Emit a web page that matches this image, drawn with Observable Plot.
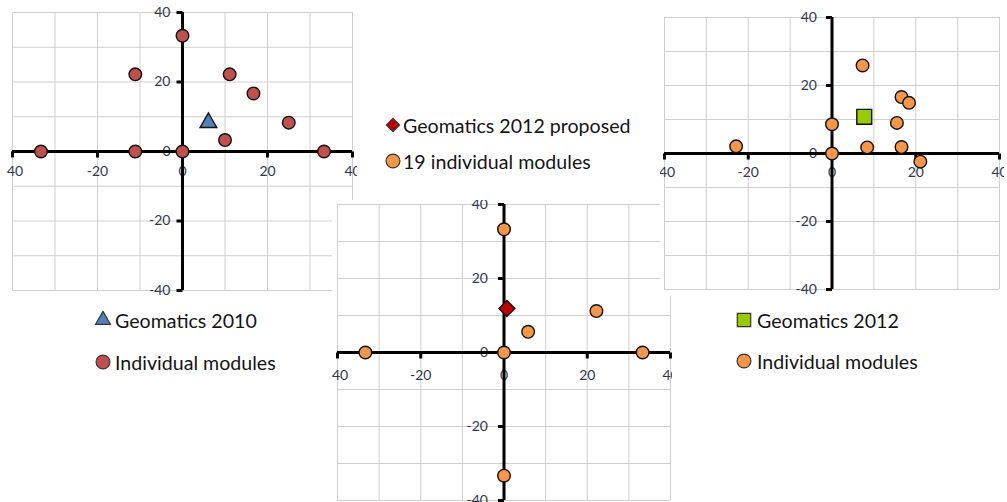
<!DOCTYPE html>
<html><head><meta charset="utf-8">
<script src="https://cdn.jsdelivr.net/npm/d3@7"></script>
<script src="https://cdn.jsdelivr.net/npm/@observablehq/plot@0.6"></script>
<style>
html,body{margin:0;padding:0;background:#fff;}
#root{position:relative;width:1007px;height:502px;overflow:hidden;background:#fff;font-family:Lato,sans-serif;}
#root > svg{position:absolute;overflow:hidden;}
.row{position:absolute;white-space:nowrap;display:flex;align-items:center;font-family:Lato,sans-serif;font-size:19.6px;color:#141414;height:28px;}
.row svg{display:block;flex:none;}
</style></head><body><div id="root"></div>
<script>
// ---- shared axis values ----
const gridValues = [-40, -30, -20, -10, 0, 10, 20, 30, 40];
const tickLabels = [-40, -20, 0, 20, 40];
const axisTicks = [-40, -20, 20, 40];

// ---- Geomatics 2010 chart ----
const modules2010X = [-33.3, -11.1, 0, 33.3, 0, -11.1, 11.1, 16.7, 25, 10];
const modules2010Y = [0, 0, 0, 0, 33.3, 22.2, 22.2, 16.7, 8.3, 3.3];
const geomatics2010X = [6.1];
const geomatics2010Y = [8.3];

// ---- Geomatics 2012 proposed chart ----
const modulesProposedX = [-33.3, 0, 33.3, 0, 0, 5.8, 22.2];
const modulesProposedY = [0, 0, 0, 33.3, -33.3, 5.6, 11.2];
const proposed2012X = [0.7];
const proposed2012Y = [11.9];

// ---- Geomatics 2012 chart ----
const modules2012X = [-22.9, 0, 0, 7.3, 8.4, 16.6, 18.4, 15.5, 16.6, 21.1];
const modules2012Y = [2.1, 0, 8.6, 25.9, 1.8, 16.6, 14.9, 9.0, 1.9, -2.4];
const geomatics2012X = [7.7];
const geomatics2012Y = [10.8];

const pts = (xs, ys) => xs.map((x, i) => ({x, y: ys[i]}));
const labelColor = "#2f3848";
const tickDown = {draw(ctx) { ctx.moveTo(0, 0); ctx.lineTo(0, 6); }};
const tickLeft = {draw(ctx) { ctx.moveTo(0, 0); ctx.lineTo(-6, 0); }};

function scatter({width, height, mt, mr, mb, ml, dx, dy, series}) {
  return Plot.plot({
    width, height,
    marginTop: mt, marginRight: mr, marginBottom: mb, marginLeft: ml,
    x: {domain: [-40, 40], axis: null},
    y: {domain: [-40, 40], axis: null},
    style: {fontFamily: "Lato, sans-serif", fontSize: "14px", background: "white", overflow: "hidden"},
    marks: [
      Plot.ruleX(gridValues, {stroke: "#cfcfcf", strokeWidth: 1}),
      Plot.ruleY(gridValues, {stroke: "#cfcfcf", strokeWidth: 1}),
      Plot.text(tickLabels, {x: d => d, y: 0, dy, text: d => String(d), fill: labelColor}),
      Plot.text(tickLabels, {x: 0, y: d => d, dx, textAnchor: "end", text: d => String(d), fill: labelColor}),
      Plot.ruleX([0], {stroke: "black", strokeWidth: 3}),
      Plot.ruleY([0], {stroke: "black", strokeWidth: 3}),
      Plot.dot(axisTicks, {x: d => d, y: 0, symbol: tickDown, stroke: "black", strokeWidth: 3, fill: "none", r: 3}),
      Plot.dot(axisTicks, {x: 0, y: d => d, symbol: tickLeft, stroke: "black", strokeWidth: 3, fill: "none", r: 3}),
      ...series.map(s => Plot.dot(s.data, {x: "x", y: "y", symbol: s.symbol, r: s.r, fill: s.fill, stroke: "#111", strokeWidth: 1.4}))
    ]
  });
}

const root = document.getElementById("root");
function place(svg, left, top, clip) {
  svg.style.left = left + "px";
  svg.style.top = top + "px";
  if (clip) svg.style.clipPath = clip;
  root.append(svg);
}

// Left chart
place(scatter({
  width: 357, height: 297, mt: 12, mr: 5, mb: 7, ml: 12, dx: -12, dy: 20,
  series: [
    {data: pts(modules2010X, modules2010Y), symbol: "circle", r: 6.3, fill: "#C0504D"},
    {data: pts(geomatics2010X, geomatics2010Y), symbol: "triangle", r: 6.2, fill: "#4F81BD"}
  ]
}), 0, 0, "inset(0 0 0 6px)");

// Middle chart
place(scatter({
  width: 340, height: 302, mt: 4, mr: 2, mb: 2, ml: 5, dx: -16, dy: 23,
  series: [
    {data: pts(modulesProposedX, modulesProposedY), symbol: "circle", r: 6.3, fill: "#F79646"},
    {data: pts(proposed2012X, proposed2012Y), symbol: "diamond2", r: 7.2, fill: "#C00000"}
  ]
}), 332, 200);

// Right chart
place(scatter({
  width: 344, height: 296, mt: 17, mr: 5, mb: 7, ml: 4, dx: -15, dy: 19,
  series: [
    {data: pts(modules2012X, modules2012Y), symbol: "circle", r: 6.3, fill: "#F79646"},
    {data: pts(geomatics2012X, geomatics2012Y), symbol: "square", r: 8.4, fill: "#99CC00"}
  ]
}), 660, 0);

// Legends
const legendRows = [
  {cy: 320, mx: 103, tx: 115, symbol: d3.symbolTriangle, size: 97, fill: "#4F81BD", text: "Geomatics 2010"},
  {cy: 362, mx: 103, tx: 115, symbol: d3.symbolCircle, size: 150, fill: "#C0504D", text: "Individual modules"},
  {cy: 125, mx: 393, tx: 403, symbol: d3.symbolDiamond2, size: 110, fill: "#C00000", text: "Geomatics 2012 proposed"},
  {cy: 161, mx: 393, tx: 403, symbol: d3.symbolCircle, size: 150, fill: "#F79646", text: "19 individual modules"},
  {cy: 320, mx: 744, tx: 757, symbol: d3.symbolSquare, size: 180, fill: "#99CC00", text: "Geomatics 2012"},
  {cy: 361, mx: 744, tx: 757, symbol: d3.symbolCircle, size: 150, fill: "#F79646", text: "Individual modules"}
];
for (const r of legendRows) {
  const div = document.createElement("div");
  div.className = "row";
  div.style.left = (r.mx - 9) + "px";
  div.style.top = (r.cy - 14) + "px";
  const svg = d3.create("svg").attr("width", 18).attr("height", 18).attr("viewBox", "-9 -9 18 18");
  svg.append("path").attr("d", d3.symbol(r.symbol, r.size)()).attr("fill", r.fill).attr("stroke", "#333").attr("stroke-width", 1.2);
  div.append(svg.node());
  const span = document.createElement("span");
  span.textContent = r.text;
  span.style.marginLeft = (r.tx - (r.mx + 9)) + "px";
  div.append(span);
  root.append(div);
}
</script>
</body></html>
